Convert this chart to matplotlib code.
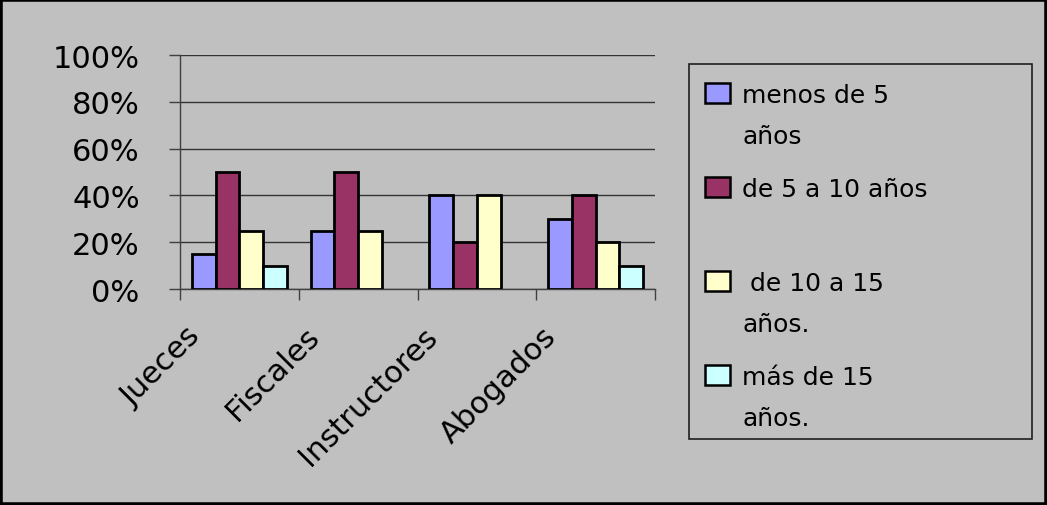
import numpy as np
import matplotlib.pyplot as plt
from matplotlib.patches import Rectangle
from matplotlib.transforms import ScaledTranslation

# Antigüedad por cargo (fracción del total de cada grupo)
categorias = ['Jueces', 'Fiscales', 'Instructores', 'Abogados']
series = ['menos de 5\naños', 'de 5 a 10 años', ' de 10 a 15\naños.', 'más de 15\naños.']
menos_5 = [0.15, 0.25, 0.40, 0.30]
de_5_a_10 = [0.50, 0.50, 0.20, 0.40]
de_10_a_15 = [0.25, 0.25, 0.40, 0.20]
mas_15 = [0.10, 0.00, 0.00, 0.10]
y_ticks = [0, 0.2, 0.4, 0.6, 0.8, 1.0]
y_labels = ['0%', '20%', '40%', '60%', '80%', '100%']

colores = ['#9999FF', '#993366', '#FFFFCC', '#CCFFFF']
gris = '#C0C0C0'
linea = '#404040'

plt.rcParams['font.family'] = 'DejaVu Sans'

W, H = 1047, 506
fig = plt.figure(figsize=(W / 100, H / 100), dpi=100, facecolor=gris)
ax = fig.add_axes([180 / W, 1 - 290 / H, 475 / W, 234 / H], facecolor=gris)

x = np.arange(len(categorias))
ancho = 0.2
for i, (vals, color) in enumerate(zip([menos_5, de_5_a_10, de_10_a_15, mas_15], colores)):
    vals = np.array(vals)
    ax.bar(x + (i - 1.5) * ancho, vals, ancho, color=color, edgecolor='black',
           linewidth=np.where(vals > 0, 2.0, 0), zorder=3)

ax.set_xlim(-0.5, len(categorias) - 0.5)
ax.set_ylim(0, 1)
ax.yaxis.grid(True, color='#333333', linewidth=1)
ax.set_axisbelow(True)
for s in ['top', 'right']:
    ax.spines[s].set_visible(False)
for s in ['left', 'bottom']:
    ax.spines[s].set_color(linea)
    ax.spines[s].set_linewidth(1)

ax.set_yticks(y_ticks, y_labels, fontsize=22)
ax.tick_params(axis='y', length=8, width=1, color=linea, pad=21)

ax.set_xticks(x, categorias, fontsize=22, rotation=45, ha='right', va='top',
              rotation_mode='anchor')
ax.set_xticks(np.arange(len(categorias) + 1) - 0.5, minor=True)
ax.tick_params(axis='x', which='major', length=0, pad=23)
ax.tick_params(axis='x', which='minor', length=8, width=1, color=linea)
desplaza = ScaledTranslation(-0.54, 0, fig.dpi_scale_trans)
for lab in ax.get_xticklabels():
    lab.set_transform(lab.get_transform() + desplaza)

# leyenda con el cuadro alineado a la primera línea de cada rótulo
fig.add_artist(Rectangle((689 / W, 1 - 440 / H), 343 / W, 375 / H, transform=fig.transFigure,
                         fill=False, edgecolor='#202020', linewidth=1.2))
for i, (lab, color) in enumerate(zip(series, colores)):
    base = 103 + i * 94
    fig.add_artist(Rectangle((705 / W, 1 - (base + 1) / H), 25 / W, 20 / H,
                             transform=fig.transFigure, facecolor=color,
                             edgecolor='black', linewidth=1.8))
    fig.text(742 / W, 1 - (base - 19) / H, lab, fontsize=18, ha='left', va='top',
             linespacing=1.87)

# marco exterior
fig.add_artist(Rectangle((0, 0), 1, 1, transform=fig.transFigure, fill=False,
                         edgecolor='black', linewidth=4))

fig.savefig('out.png', dpi=100, facecolor=gris)
